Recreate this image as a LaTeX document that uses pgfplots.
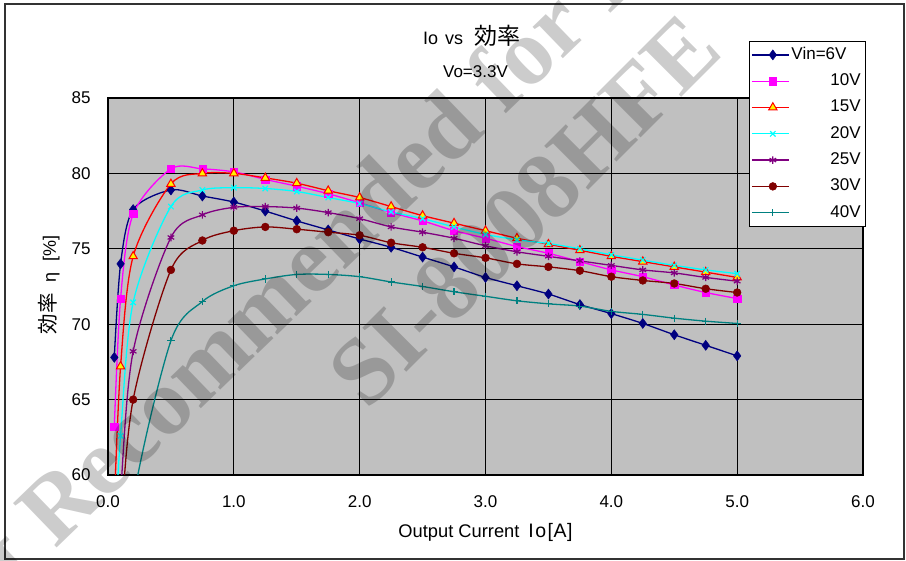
\documentclass[border=0pt]{standalone}
\usepackage{pgfplots}
\pgfplotsset{compat=1.18}
\usepackage{fontspec}
\setmainfont{Liberation Sans}
\newfontfamily\cjk{Noto Sans CJK JP}
\newfontfamily\wmfont{Liberation Serif}
\definecolor{plotgray}{HTML}{C0C0C0}
\definecolor{c6}{HTML}{000080}
\definecolor{c10}{HTML}{FF00FF}
\definecolor{c15}{HTML}{FF0000}
\definecolor{c20}{HTML}{00FFFF}
\definecolor{c25}{HTML}{800080}
\definecolor{c30}{HTML}{800000}
\definecolor{c40}{HTML}{008080}
\pgfplotsset{
 s6/.style={color=c6, line width=1.3pt, mark=diamond*, mark size=5pt, mark options={line width=0.5pt}},
 s10/.style={color=c10, line width=1.3pt, mark=square*, mark size=3.6pt, mark options={line width=0.5pt}},
 s15/.style={color=c15, line width=1.3pt, mark=triangle*, mark size=4.8pt, mark options={fill=yellow, draw=c15, line width=1pt}},
 s20/.style={color=c20, line width=1.3pt, mark=x, mark size=3.8pt, mark options={line width=1.2pt}},
 s25/.style={color=c25, line width=1.3pt, mark=asterisk, mark size=3.8pt, mark options={line width=1.2pt}},
 s30/.style={color=c30, line width=1.3pt, mark=*, mark size=3.9pt, mark options={line width=0.5pt}},
 s40/.style={color=c40, line width=1.3pt, mark=+, mark size=3.6pt, mark options={line width=1.1pt}},
}
\begin{document}
\begin{tikzpicture}[x=1pt,y=1pt]
\useasboundingbox (0,0) rectangle (906,561);
\draw[line width=1.5pt, black!80] (5,2) rectangle (904,557);
\begin{axis}[
 at={(108pt,86pt)}, anchor=south west,
 scale only axis, width=755pt, height=377pt,
 xmin=0, xmax=6, ymin=60, ymax=85,
 xtick={0,1,...,6}, ytick={60,65,...,85},
 axis background/.style={fill=plotgray},
 grid=major, major grid style={black, line width=1pt},
 axis line style={black, line width=1.5pt},
 major tick length=0pt,
 /pgf/number format/assume math mode=true,
 ticklabel style={font=\fontsize{17}{20}\selectfont},
 yticklabel style={xshift=-14pt},
 xticklabel style={yshift=-17pt, /pgf/number format/.cd, fixed, fixed zerofill, precision=1},
 title={Io\hspace{7pt}vs\hspace{11pt}{\cjk\fontsize{23}{25}\selectfont 効率}},
 title style={at={(axis description cs:0.4172,1.1247)}, anchor=base west, inner sep=0pt, font=\fontsize{18}{20}\selectfont},
 xlabel={Output Current\hspace{9pt}{\fontsize{19.5}{20}\selectfont I\kern1.5pt o\kern1.5pt[\kern0.5pt A\kern0.5pt]}},
 xlabel style={at={(axis description cs:0.5,-0.1663)}, anchor=base, font=\fontsize{18.3}{20}\selectfont},
 ylabel={{\cjk\fontsize{20.5}{22}\selectfont 効率}\hspace{11pt}η\hspace{11pt}[\%]},
 ylabel style={at={(axis description cs:-0.078,0.504)}, anchor=center, font=\fontsize{18}{20}\selectfont},
 legend cell align=left,
 legend image code/.code={\path (0pt,0pt) -- (5pt,0pt); \draw[mark repeat=2,mark phase=2] plot coordinates {(5pt,0pt) (21pt,0pt) (37pt,0pt)};},
 legend style={at={(axis description cs:0.849,1.152)}, anchor=north west,
   draw=black, fill=white, font=\fontsize{17}{20}\selectfont,
   inner xsep=2pt, inner ysep=4pt, row sep=6.3pt,
   nodes={inner sep=2pt, text height=12.5pt, text depth=3.5pt}},
 smooth, tension=0.5,
]
\addplot[s6] coordinates {(0.05,67.8)(0.1,74.0)(0.2,77.6)(0.5,78.9)(0.75,78.5)(1.0,78.1)(1.25,77.5)(1.5,76.85)(1.75,76.25)(2.0,75.65)(2.25,75.1)(2.5,74.45)(2.75,73.8)(3.0,73.1)(3.25,72.55)(3.5,72.0)(3.75,71.3)(4.0,70.7)(4.25,70.05)(4.5,69.3)(4.75,68.6)(5.0,67.9)};
\addlegendentry{Vin=6V}
\addplot[s10] coordinates {(0.05,63.2)(0.1,71.7)(0.2,77.3)(0.5,80.3)(0.75,80.3)(1.0,80.1)(1.25,79.6)(1.5,79.15)(1.75,78.65)(2.0,78.05)(2.25,77.4)(2.5,76.85)(2.75,76.2)(3.0,75.7)(3.25,75.15)(3.5,74.7)(3.75,74.15)(4.0,73.6)(4.25,73.15)(4.5,72.6)(4.75,72.1)(5.0,71.7)};
\addlegendentry{\hspace{39pt}10V}
\addplot[s15] coordinates {(0.05,58.0)(0.1,67.2)(0.2,74.5)(0.5,79.3)(0.75,80.0)(1.0,80.0)(1.25,79.7)(1.5,79.35)(1.75,78.85)(2.0,78.4)(2.25,77.8)(2.5,77.2)(2.75,76.7)(3.0,76.2)(3.25,75.7)(3.5,75.3)(3.75,74.9)(4.0,74.5)(4.25,74.15)(4.5,73.8)(4.75,73.45)(5.0,73.1)};
\addlegendentry{\hspace{39pt}15V}
\addplot[s20] coordinates {(0.05,55.5)(0.1,62.6)(0.2,71.45)(0.5,77.8)(0.75,78.9)(1.0,79.05)(1.25,79.0)(1.5,78.8)(1.75,78.4)(2.0,78.0)(2.25,77.45)(2.5,77.0)(2.75,76.45)(3.0,75.95)(3.25,75.6)(3.5,75.35)(3.75,75.0)(4.0,74.6)(4.25,74.25)(4.5,73.9)(4.75,73.6)(5.0,73.35)};
\addlegendentry{\hspace{39pt}20V}
\addplot[s25] coordinates {(0.05,50.0)(0.1,58.7)(0.2,68.2)(0.5,75.75)(0.75,77.25)(1.0,77.75)(1.25,77.8)(1.5,77.7)(1.75,77.4)(2.0,77.0)(2.25,76.45)(2.5,76.1)(2.75,75.7)(3.0,75.2)(3.25,74.8)(3.5,74.5)(3.75,74.2)(4.0,73.9)(4.25,73.6)(4.5,73.4)(4.75,73.1)(5.0,72.85)};
\addlegendentry{\hspace{39pt}25V}
\addplot[s30] coordinates {(0.05,46.0)(0.1,56.0)(0.2,65.0)(0.5,73.6)(0.75,75.55)(1.0,76.2)(1.25,76.45)(1.5,76.3)(1.75,76.1)(2.0,75.9)(2.25,75.4)(2.5,75.1)(2.75,74.7)(3.0,74.4)(3.25,74.0)(3.5,73.8)(3.75,73.55)(4.0,73.15)(4.25,72.9)(4.5,72.7)(4.75,72.35)(5.0,72.1)};
\addlegendentry{\hspace{39pt}30V}
\addplot[s40] coordinates {(0.1,48.0)(0.2,58.3)(0.5,68.9)(0.75,71.5)(1.0,72.55)(1.25,73.0)(1.5,73.3)(1.75,73.3)(2.0,73.15)(2.25,72.8)(2.5,72.5)(2.75,72.15)(3.0,71.85)(3.25,71.55)(3.5,71.35)(3.75,71.2)(4.0,70.85)(4.25,70.65)(4.5,70.4)(4.75,70.2)(5.0,70.05)};
\addlegendentry{\hspace{39pt}40V}
\end{axis}
\node[anchor=base, font=\fontsize{17}{19}\selectfont] at (475.5,483) {Vo=3.3V};
\begin{scope}
\clip (0,0) rectangle (906,561);
\begin{scope}[opacity=0.2]
\node[anchor=base west, rotate=44, inner sep=0pt, font=\wmfont\bfseries\fontsize{95}{95}\selectfont] at (55,11) {Recommended for New Design};
\node[anchor=base east, rotate=44, inner sep=0pt, font=\wmfont\bfseries\fontsize{95}{95}\selectfont] at (38,-5.5) {Not};
\node[anchor=base west, rotate=45, inner sep=0pt, font=\wmfont\bfseries\fontsize{95}{95}\selectfont] at (367,149) {SI-8008HFE};
\end{scope}
\end{scope}
\end{tikzpicture}
\end{document}
